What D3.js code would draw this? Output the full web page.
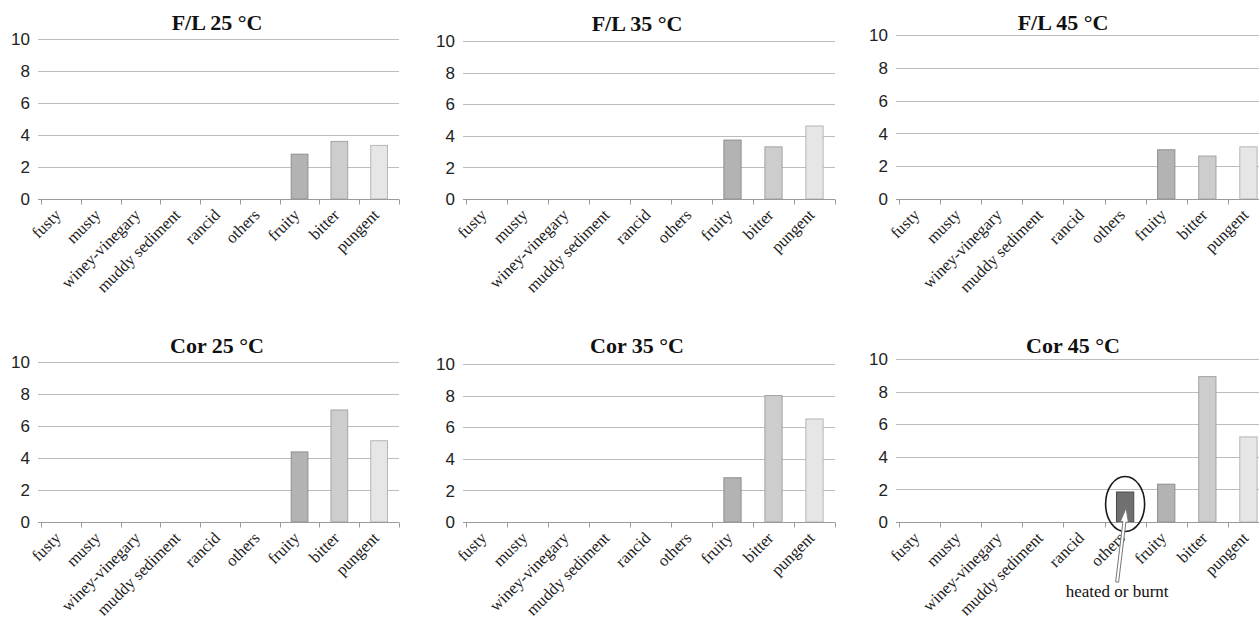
<!DOCTYPE html>
<html>
<head>
<meta charset="utf-8">
<script src="https://cdn.jsdelivr.net/npm/d3@7"></script>
<style>
   html, body { margin: 0; padding: 0; background: #fff; }
   svg { display: block; }
   .title { font-family: "Liberation Serif", "Times New Roman", serif; font-weight: bold; font-size: 22px; fill: #111; }
   .ytick { font-family: "Liberation Sans", Arial, sans-serif; font-size: 17px; fill: #222; }
   .xlab { font-family: "Liberation Serif", "Times New Roman", serif; font-size: 16.5px; fill: #222; }
   .note { font-family: "Liberation Serif", "Times New Roman", serif; font-size: 17px; fill: #111; }
</style>
</head>
<body>
<svg id="chart" width="1259" height="623"></svg>
<script>
// ---- data ----
var categories = ['fusty', 'musty', 'winey-vinegary', 'muddy sediment', 'rancid', 'others', 'fruity', 'bitter', 'pungent'];
var titles = ['F/L 25 °C', 'F/L 35 °C', 'F/L 45 °C', 'Cor 25 °C', 'Cor 35 °C', 'Cor 45 °C'];
var fl25  = [0, 0, 0, 0, 0, 0,    2.8,  3.6,  3.35];
var fl35  = [0, 0, 0, 0, 0, 0,    3.73, 3.3,  4.62];
var fl45  = [0, 0, 0, 0, 0, 0,    3.0,  2.62, 3.18];
var cor25 = [0, 0, 0, 0, 0, 0,    4.38, 7.0,  5.08];
var cor35 = [0, 0, 0, 0, 0, 0,    2.8,  8.0,  6.52];
var cor45 = [0, 0, 0, 0, 0, 1.84, 2.32, 8.92, 5.22];
var yTicks = [0, 2, 4, 6, 8, 10];
var noteText = 'heated or burnt';

(function(){
   var series = [fl25, fl35, fl45, cor25, cor35, cor45];

   // panel frames (plot area left/right, top/zero line, title position)
   var layout = [
      {x0: 41,  x1: 399,  top: 39,  base: 199, tx: 217,  ty: 30},
      {x0: 466, x1: 835,  top: 41,  base: 199, tx: 637,  ty: 31},
      {x0: 899, x1: 1269, top: 35,  base: 199, tx: 1063, ty: 30},
      {x0: 41,  x1: 399,  top: 362, base: 522, tx: 217,  ty: 353},
      {x0: 466, x1: 835,  top: 364, base: 522, tx: 637,  ty: 353},
      {x0: 899, x1: 1269, top: 359, base: 522, tx: 1073, ty: 353}
   ];

   var fills   = {others: '#707070', fruity: '#b3b3b3', bitter: '#cdcdcd', pungent: '#e6e6e6'};
   var strokes = {others: '#4a4a4a', fruity: '#8e8e8e', bitter: '#a3a3a3', pungent: '#b5b5b5'};

   var svg = d3.select('#chart');

   series.forEach(function(vals, i){
      var L = layout[i];
      var g = svg.append('g').attr('class', 'panel');

      var x = d3.scaleBand().domain(categories).range([L.x0, L.x1]).padding(0);
      var y = d3.scaleLinear().domain([0, 10]).range([L.base, L.top]);
      var bw = x.bandwidth() * 0.42;

      // title
      g.append('text')
         .attr('class', 'title')
         .attr('x', L.tx)
         .attr('y', L.ty)
         .attr('text-anchor', 'middle')
         .text(titles[i]);

      // grid lines
      g.selectAll('line.grid').data(yTicks.filter(function(t){ return t > 0; })).enter()
         .append('line')
         .attr('class', 'grid')
         .attr('x1', L.x0 - 3)
         .attr('x2', L.x1)
         .attr('y1', function(d){ return Math.round(y(d)) + 0.5; })
         .attr('y2', function(d){ return Math.round(y(d)) + 0.5; })
         .attr('stroke', '#bdbdbd')
         .attr('stroke-width', 1.2);

      // y labels
      g.selectAll('text.ytick').data(yTicks).enter()
         .append('text')
         .attr('class', 'ytick')
         .attr('x', L.x0 - 11)
         .attr('y', function(d){ return y(d); })
         .attr('dy', '0.36em')
         .attr('text-anchor', 'end')
         .text(function(d){ return d; });

      // bars
      g.selectAll('rect.bar').data(categories.map(function(c, k){ return {cat: c, v: vals[k]}; })
            .filter(function(d){ return d.v > 0; })).enter()
         .append('rect')
         .attr('class', 'bar')
         .attr('x', function(d){ return x(d.cat) + (x.bandwidth() - bw) / 2; })
         .attr('y', function(d){ return y(d.v); })
         .attr('width', bw)
         .attr('height', function(d){ return y(0) - y(d.v); })
         .attr('fill', function(d){ return fills[d.cat]; })
         .attr('stroke', function(d){ return strokes[d.cat]; })
         .attr('stroke-width', 1);

      // x axis baseline + ticks
      var base = Math.round(y(0)) + 0.5;
      g.append('line')
         .attr('x1', L.x0 - 3).attr('x2', L.x1)
         .attr('y1', base).attr('y2', base)
         .attr('stroke', '#9a9a9a')
         .attr('stroke-width', 1.2);
      var edges = categories.map(function(c){ return x(c); }).concat([L.x1]);
      g.selectAll('line.xtick').data(edges).enter()
         .append('line')
         .attr('class', 'xtick')
         .attr('x1', function(d){ return Math.round(d) + 0.5; })
         .attr('x2', function(d){ return Math.round(d) + 0.5; })
         .attr('y1', base)
         .attr('y2', base + 5)
         .attr('stroke', '#9a9a9a');

      // rotated category labels
      g.selectAll('text.xlab').data(categories).enter()
         .append('text')
         .attr('class', 'xlab')
         .attr('text-anchor', 'end')
         .attr('transform', function(d){
            var cx = x(d) + x.bandwidth() / 2 + 1;
            return 'translate(' + cx + ',' + (L.base + 17) + ') rotate(-45)';
         })
         .text(function(d){ return d; });

      // annotation on the last panel
      if(i === 5){
         var cx = x('others') + x.bandwidth() / 2;
         var cy = y(vals[5] / 2) - 3;
         g.append('ellipse')
            .attr('cx', cx)
            .attr('cy', cy)
            .attr('rx', 19.5)
            .attr('ry', 27.5)
            .attr('fill', 'none')
            .attr('stroke', '#1a1a1a')
            .attr('stroke-width', 1.6);

         // hollow arrow from the note up to the bar
         var tip = {x: cx + 1, y: y(vals[5] / 2) + 1};
         var tail = {x: cx - 8, y: L.base + 60};
         var dx = tip.x - tail.x, dy = tip.y - tail.y;
         var len = Math.sqrt(dx * dx + dy * dy);
         var ux = dx / len, uy = dy / len, nx = -uy, ny = ux;
         var head = 14, hw = 4, sw = 1.5;
         var pt = function(a, b){ return [tail.x + ux * a + nx * b, tail.y + uy * a + ny * b]; };
         var poly = [
            pt(0, -sw), pt(len - head, -sw), pt(len - head, -hw), pt(len, 0),
            pt(len - head, hw), pt(len - head, sw), pt(0, sw)
         ];
         g.append('polygon')
            .attr('points', poly.map(function(p){ return p.join(','); }).join(' '))
            .attr('fill', '#fff')
            .attr('stroke', '#777')
            .attr('stroke-width', 1);

         g.append('text')
            .attr('class', 'note')
            .attr('x', cx - 8)
            .attr('y', L.base + 75)
            .attr('text-anchor', 'middle')
            .text(noteText);
      }
   });
})();
</script>
</body>
</html>
